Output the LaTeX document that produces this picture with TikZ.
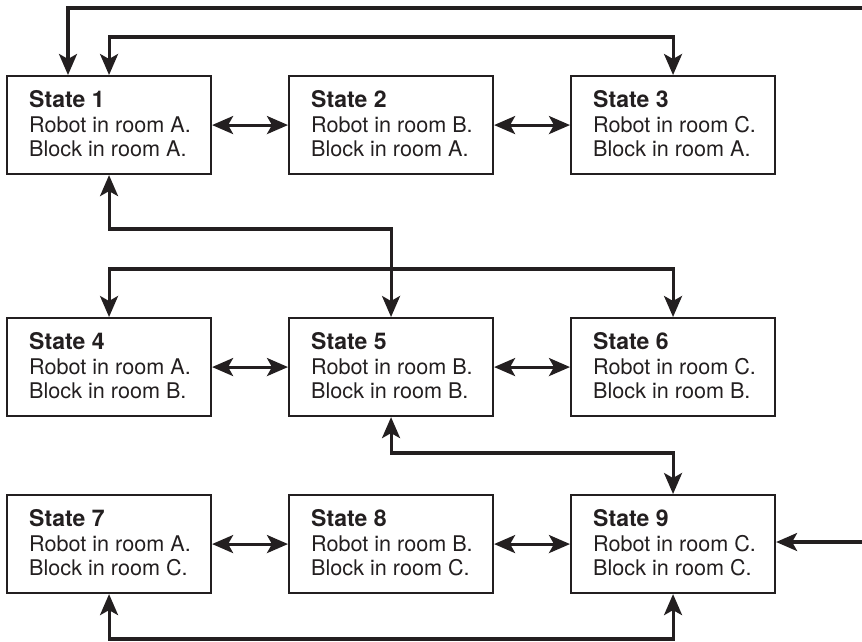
\documentclass[tikz,border=0pt]{standalone}
\usepackage{fontspec}
\setmainfont{TeX Gyre Heros}
\usetikzlibrary{arrows.meta,calc}
\definecolor{ink}{HTML}{231F20}
\tikzset{
  head/.tip={Stealth[length=21pt,width=18pt,inset=5pt]},
  box/.style={draw=ink, line width=2.1pt, minimum width=204pt, minimum height=98pt, inner sep=0pt, anchor=north west},
  txt/.style={anchor=north west, align=left, inner sep=0pt, text=ink, font=\fontsize{21.6}{24.8}\selectfont},
  conn/.style={draw=ink, line width=3.1pt, line join=miter},
  dbl/.style={conn, {head}-{head}},
  one/.style={conn, -{head}},
}
\newcommand\stbox[6]{%
  \node[box] (#1) at (#2,#3) {};
  \node[txt] (#1t) at ($(#1.north west)+(23,15)$) {{\fontsize{23}{24.8}\selectfont\bfseries State #4}\\Robot in room #5.\\Block in room #6.};
}
\begin{document}
\begin{tikzpicture}[x=1pt,y=-1pt]
\useasboundingbox (0,0) rectangle (862,641);
\stbox{s1}{6}{75}{1}{A}{A}
\stbox{s2}{288}{75}{2}{B}{A}
\stbox{s3}{570}{75}{3}{C}{A}
\stbox{s4}{6}{317}{4}{A}{B}
\stbox{s5}{288}{317}{5}{B}{B}
\stbox{s6}{570}{317}{6}{C}{B}
\stbox{s7}{6}{494}{7}{A}{C}
\stbox{s8}{288}{494}{8}{B}{C}
\stbox{s9}{570}{494}{9}{C}{C}
% horizontal neighbours
\draw[dbl] (s1.east) -- (s2.west);
\draw[dbl] (s2.east) -- (s3.west);
\draw[dbl] (s4.east) -- (s5.west);
\draw[dbl] (s5.east) -- (s6.west);
\draw[dbl] (s7.east) -- (s8.west);
\draw[dbl] (s8.east) -- (s9.west);
% loops leaving the picture on the right
\coordinate (topR) at (862,8);
\coordinate (s1in) at ($(s1.north west)+(62,0)$);
\draw[one] (topR) -| (s1in);
\coordinate (rowR) at (862,542);
\draw[one] (rowR) -- (rowR -| s9.east);
% other links
\draw[dbl] (s1.north) |- (390,37) -| (s3.north);
\draw[dbl] (s1.south) |- (250,229) -| (s5.north);
\draw[dbl] (s4.north) |- (390,269) -| (s6.north);
\draw[dbl] (s5.south) |- (530,453) -| (s9.north);
\draw[dbl] (s7.south) |- (390,639) -| (s9.south);
\end{tikzpicture}
\end{document}
